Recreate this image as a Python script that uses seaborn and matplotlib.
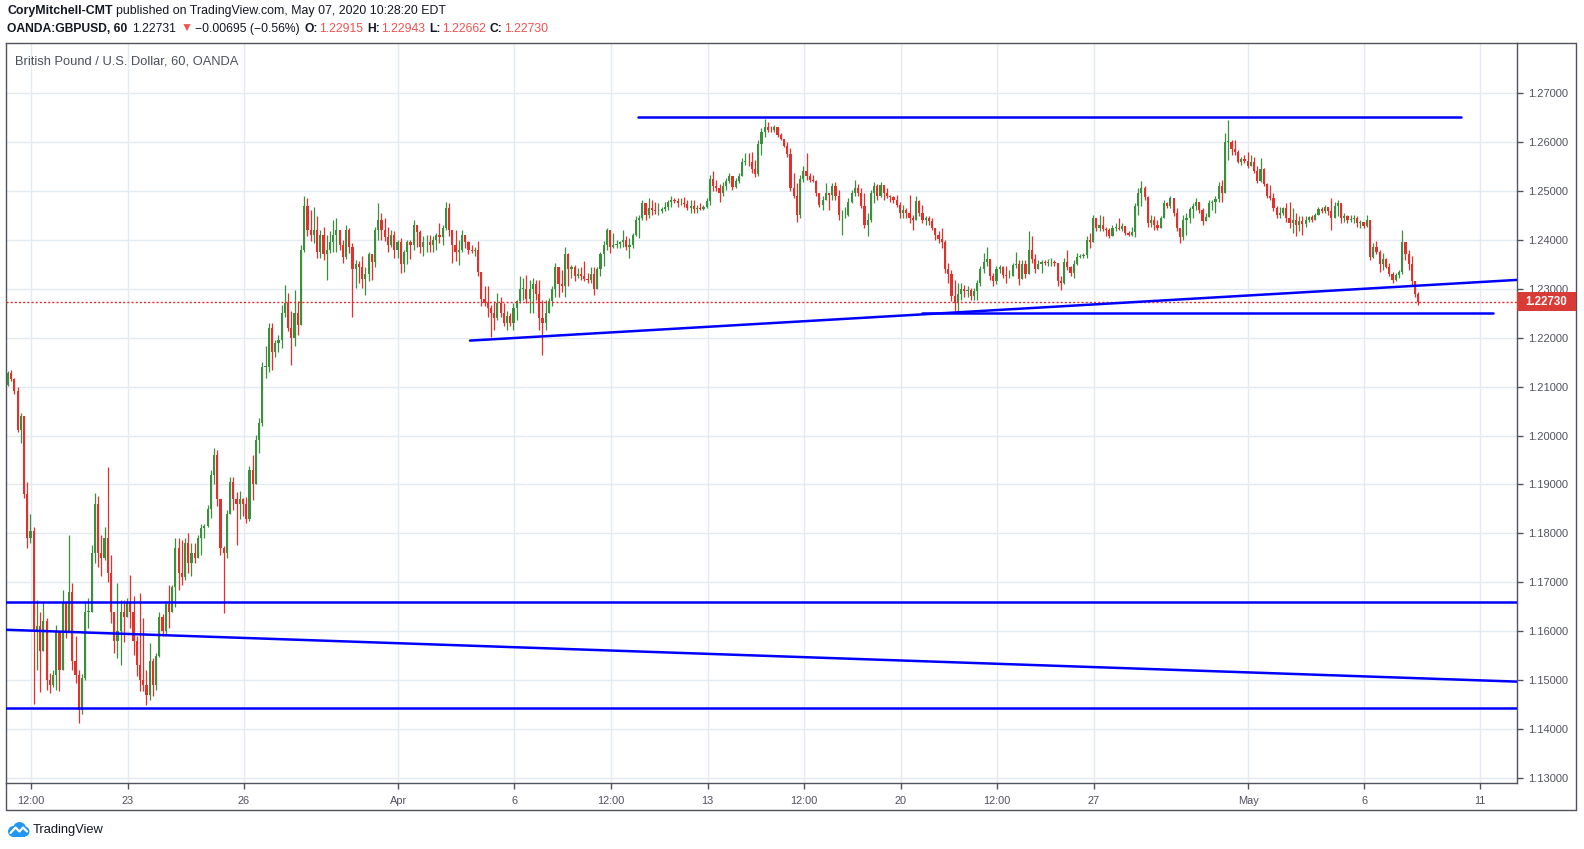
import numpy as np
import pandas as pd
import matplotlib
matplotlib.use("Agg")
import matplotlib.pyplot as plt
from matplotlib.patches import Rectangle, Circle
from matplotlib.lines import Line2D
import seaborn as sns

# ---------------------------------------------------------------- data
# GBPUSD, 2-hour bars (values are 1 + v/10000). Bars are consecutive trading hours,
# hour 0 = 18 Mar 12:00, first bar starts at hour -15.
FIRST_OPEN = 2104
HIGH = [2132, 2133, 2118, 2100, 2046, 2040, 1905, 1840, 1812, 1664,
        1640, 1660, 1627, 1515, 1520, 1613, 1600, 1685, 1660, 1797,
        1698, 1590, 1520, 1512, 1661, 1667, 1777, 1882, 1877, 1796,
        1814, 1936, 1756, 1637, 1698, 1664, 1664, 1668, 1715, 1671,
        1590, 1678, 1627, 1521, 1576, 1545, 1555, 1640, 1635, 1661,
        1695, 1695, 1790, 1790, 1787, 1790, 1800, 1780, 1780, 1797,
        1820, 1820, 1858, 1930, 1975, 1970, 1870, 1775, 1848, 1916,
        1916, 1885, 1886, 1872, 1875, 1937, 1961, 2002, 2036, 2150,
        2182, 2230, 2230, 2195, 2206, 2267, 2308, 2291, 2254, 2298,
        2274, 2390, 2489, 2485, 2461, 2468, 2448, 2420, 2427, 2410,
        2417, 2441, 2444, 2420, 2400, 2431, 2424, 2393, 2359, 2356,
        2366, 2345, 2376, 2370, 2427, 2475, 2455, 2444, 2427, 2420,
        2417, 2400, 2403, 2380, 2400, 2400, 2441, 2430, 2420, 2407,
        2410, 2410, 2407, 2414, 2434, 2430, 2478, 2475, 2420, 2420,
        2400, 2420, 2410, 2397, 2390, 2386, 2397, 2335, 2305, 2305,
        2267, 2274, 2291, 2284, 2271, 2254, 2250, 2270, 2277, 2325,
        2322, 2328, 2318, 2322, 2318, 2318, 2277, 2277, 2281, 2305,
        2352, 2342, 2339, 2386, 2373, 2349, 2349, 2342, 2345, 2356,
        2332, 2345, 2345, 2345, 2376, 2397, 2424, 2420, 2414, 2400,
        2397, 2420, 2407, 2403, 2414, 2448, 2451, 2482, 2475, 2485,
        2482, 2478, 2475, 2468, 2478, 2482, 2489, 2485, 2485, 2485,
        2488, 2482, 2482, 2482, 2471, 2475, 2471, 2485, 2533, 2540,
        2523, 2513, 2519, 2526, 2536, 2530, 2526, 2536, 2567, 2577,
        2577, 2580, 2563, 2604, 2628, 2647, 2640, 2632, 2635, 2630,
        2618, 2606, 2600, 2587, 2536, 2516, 2533, 2550, 2577, 2536,
        2533, 2523, 2495, 2489, 2516, 2496, 2516, 2519, 2502, 2461,
        2468, 2485, 2502, 2523, 2513, 2506, 2495, 2455, 2502, 2519,
        2513, 2519, 2512, 2506, 2492, 2489, 2492, 2478, 2472, 2465,
        2492, 2451, 2489, 2482, 2471, 2448, 2448, 2444, 2425, 2417,
        2424, 2400, 2352, 2339, 2318, 2311, 2311, 2308, 2305, 2301,
        2301, 2318, 2346, 2373, 2386, 2360, 2332, 2346, 2349, 2346,
        2346, 2339, 2352, 2376, 2359, 2359, 2359, 2417, 2407, 2370,
        2359, 2359, 2359, 2360, 2363, 2359, 2352, 2325, 2363, 2380,
        2346, 2359, 2373, 2370, 2373, 2407, 2414, 2451, 2444, 2451,
        2448, 2427, 2424, 2431, 2434, 2444, 2434, 2428, 2417, 2427,
        2475, 2505, 2520, 2509, 2489, 2451, 2448, 2441, 2448, 2482,
        2478, 2489, 2485, 2465, 2424, 2451, 2454, 2468, 2475, 2485,
        2478, 2465, 2454, 2482, 2482, 2489, 2519, 2523, 2618, 2645,
        2604, 2604, 2584, 2570, 2574, 2580, 2574, 2570, 2550, 2567,
        2546, 2516, 2512, 2495, 2470, 2468, 2468, 2475, 2478, 2465,
        2454, 2448, 2448, 2448, 2448, 2451, 2454, 2468, 2468, 2472,
        2468, 2485, 2478, 2482, 2475, 2454, 2451, 2451, 2451, 2448,
        2441, 2437, 2451, 2441, 2393, 2397, 2380, 2373, 2362, 2352,
        2335, 2332, 2339, 2420, 2395, 2380, 2366, 2315, 2294]
LOW = [2101, 2112, 2085, 2007, 1985, 1872, 1770, 1780, 1452, 1520,
       1476, 1560, 1480, 1474, 1487, 1480, 1478, 1520, 1586, 1600,
       1521, 1494, 1412, 1430, 1500, 1606, 1640, 1740, 1732, 1712,
       1746, 1700, 1616, 1555, 1545, 1531, 1579, 1630, 1606, 1552,
       1508, 1478, 1477, 1450, 1460, 1467, 1480, 1548, 1590, 1595,
       1606, 1640, 1650, 1685, 1695, 1705, 1718, 1712, 1739, 1750,
       1756, 1790, 1814, 1831, 1900, 1855, 1755, 1637, 1750, 1840,
       1848, 1777, 1830, 1835, 1821, 1825, 1869, 1900, 1964, 2020,
       2117, 2130, 2134, 2160, 2170, 2179, 2243, 2213, 2145, 2182,
       2206, 2225, 2376, 2407, 2397, 2393, 2363, 2362, 2359, 2318,
       2373, 2376, 2376, 2380, 2352, 2360, 2373, 2243, 2301, 2311,
       2301, 2288, 2315, 2318, 2345, 2400, 2400, 2397, 2376, 2385,
       2363, 2363, 2332, 2335, 2350, 2360, 2380, 2386, 2373, 2366,
       2376, 2376, 2376, 2380, 2393, 2390, 2420, 2407, 2352, 2356,
       2349, 2375, 2383, 2370, 2373, 2366, 2325, 2264, 2264, 2243,
       2202, 2216, 2237, 2243, 2223, 2216, 2223, 2216, 2237, 2270,
       2277, 2270, 2250, 2250, 2277, 2216, 2165, 2216, 2250, 2264,
       2284, 2284, 2294, 2284, 2305, 2322, 2315, 2322, 2318, 2315,
       2312, 2312, 2288, 2300, 2325, 2346, 2380, 2373, 2383, 2383,
       2383, 2386, 2380, 2363, 2383, 2407, 2403, 2440, 2441, 2445,
       2451, 2453, 2451, 2454, 2458, 2461, 2468, 2475, 2468, 2471,
       2468, 2461, 2454, 2454, 2454, 2461, 2461, 2465, 2471, 2499,
       2499, 2478, 2489, 2502, 2516, 2502, 2505, 2516, 2530, 2553,
       2550, 2536, 2529, 2530, 2574, 2611, 2621, 2621, 2621, 2611,
       2604, 2590, 2570, 2499, 2485, 2437, 2445, 2519, 2523, 2519,
       2519, 2489, 2468, 2461, 2482, 2461, 2482, 2482, 2441, 2410,
       2444, 2448, 2475, 2489, 2489, 2465, 2424, 2407, 2437, 2475,
       2482, 2488, 2482, 2485, 2478, 2475, 2468, 2444, 2444, 2445,
       2434, 2420, 2440, 2448, 2434, 2431, 2431, 2420, 2400, 2393,
       2383, 2332, 2311, 2274, 2250, 2250, 2277, 2284, 2284, 2277,
       2277, 2277, 2305, 2332, 2346, 2318, 2305, 2310, 2332, 2322,
       2311, 2322, 2326, 2342, 2308, 2320, 2322, 2330, 2352, 2332,
       2340, 2332, 2349, 2346, 2346, 2346, 2305, 2298, 2310, 2339,
       2325, 2322, 2349, 2362, 2362, 2362, 2383, 2395, 2417, 2417,
       2417, 2407, 2403, 2407, 2417, 2420, 2417, 2410, 2407, 2407,
       2405, 2451, 2470, 2482, 2427, 2427, 2420, 2420, 2424, 2444,
       2464, 2464, 2448, 2417, 2393, 2400, 2410, 2434, 2444, 2460,
       2454, 2431, 2438, 2446, 2461, 2454, 2478, 2478, 2495, 2564,
       2574, 2574, 2557, 2553, 2557, 2546, 2550, 2536, 2516, 2519,
       2509, 2485, 2482, 2458, 2445, 2444, 2451, 2437, 2424, 2414,
       2407, 2417, 2410, 2427, 2437, 2437, 2440, 2450, 2454, 2454,
       2451, 2420, 2444, 2448, 2434, 2437, 2434, 2437, 2434, 2427,
       2424, 2424, 2427, 2359, 2363, 2370, 2335, 2339, 2342, 2325,
       2311, 2315, 2322, 2330, 2359, 2339, 2305, 2284, 2266]
CLOSE = [2128, 2115, 2090, 2012, 2040, 1880, 1790, 1805, 1600, 1610,
         1560, 1620, 1500, 1490, 1510, 1600, 1520, 1660, 1600, 1680,
         1540, 1510, 1440, 1505, 1640, 1640, 1760, 1860, 1760, 1750,
         1790, 1720, 1640, 1580, 1600, 1640, 1630, 1660, 1640, 1580,
         1530, 1500, 1490, 1470, 1540, 1490, 1550, 1630, 1600, 1655,
         1640, 1690, 1770, 1720, 1710, 1780, 1740, 1760, 1750, 1790,
         1810, 1815, 1850, 1920, 1960, 1870, 1770, 1760, 1840, 1905,
         1870, 1860, 1870, 1860, 1830, 1930, 1900, 1990, 2025, 2140,
         2140, 2220, 2170, 2190, 2195, 2250, 2270, 2220, 2200, 2250,
         2225, 2380, 2470, 2420, 2410, 2420, 2375, 2410, 2370, 2380,
         2395, 2410, 2420, 2390, 2365, 2420, 2385, 2340, 2350, 2345,
         2320, 2330, 2370, 2355, 2420, 2440, 2420, 2405, 2390, 2410,
         2380, 2395, 2350, 2375, 2395, 2390, 2430, 2415, 2385, 2395,
         2395, 2390, 2400, 2410, 2405, 2425, 2465, 2420, 2390, 2375,
         2380, 2410, 2395, 2380, 2378, 2380, 2335, 2280, 2270, 2260,
         2250, 2240, 2270, 2250, 2230, 2245, 2230, 2260, 2275, 2300,
         2300, 2280, 2300, 2310, 2290, 2240, 2230, 2250, 2275, 2300,
         2345, 2310, 2305, 2370, 2340, 2345, 2325, 2330, 2325, 2320,
         2318, 2330, 2300, 2340, 2370, 2390, 2420, 2385, 2390, 2392,
         2395, 2400, 2385, 2390, 2410, 2440, 2445, 2475, 2450, 2465,
         2460, 2458, 2458, 2462, 2468, 2478, 2482, 2480, 2475, 2476,
         2473, 2465, 2470, 2462, 2465, 2463, 2466, 2480, 2525, 2510,
         2505, 2495, 2510, 2520, 2530, 2508, 2520, 2530, 2560, 2560,
         2558, 2545, 2535, 2595, 2620, 2630, 2625, 2624, 2630, 2615,
         2606, 2592, 2575, 2505, 2490, 2450, 2525, 2540, 2530, 2522,
         2521, 2495, 2472, 2482, 2495, 2492, 2510, 2490, 2450, 2450,
         2450, 2478, 2495, 2505, 2495, 2470, 2430, 2440, 2495, 2510,
         2490, 2512, 2495, 2490, 2488, 2482, 2472, 2455, 2460, 2455,
         2445, 2440, 2480, 2455, 2440, 2444, 2438, 2425, 2410, 2402,
         2395, 2340, 2330, 2285, 2270, 2290, 2300, 2295, 2298, 2285,
         2296, 2312, 2340, 2355, 2360, 2325, 2315, 2340, 2345, 2328,
         2325, 2326, 2348, 2350, 2320, 2350, 2330, 2380, 2360, 2340,
         2350, 2355, 2352, 2354, 2355, 2352, 2315, 2312, 2355, 2345,
         2332, 2350, 2365, 2366, 2368, 2400, 2395, 2445, 2425, 2430,
         2422, 2420, 2408, 2425, 2425, 2422, 2428, 2414, 2410, 2415,
         2470, 2495, 2505, 2488, 2435, 2440, 2430, 2425, 2444, 2475,
         2470, 2485, 2455, 2425, 2405, 2440, 2445, 2462, 2470, 2478,
         2460, 2438, 2446, 2475, 2478, 2484, 2510, 2495, 2600, 2600,
         2585, 2580, 2560, 2565, 2562, 2550, 2560, 2540, 2520, 2545,
         2515, 2490, 2486, 2465, 2450, 2455, 2465, 2445, 2435, 2440,
         2430, 2438, 2432, 2440, 2446, 2440, 2450, 2462, 2458, 2466,
         2458, 2445, 2470, 2475, 2445, 2448, 2440, 2442, 2445, 2435,
         2436, 2428, 2440, 2365, 2385, 2375, 2350, 2360, 2345, 2330,
         2318, 2328, 2335, 2395, 2370, 2350, 2315, 2290, 2273]
BAR_HOURS = 2
FIRST_BAR_HOUR = -15

TICK_HOURS = [0, 60, 132, 228, 300, 360, 420, 480, 540, 600, 660, 756, 828, 900]
TICK_LABELS = ["12:00", "23", "26", "Apr", "6", "12:00", "13", "12:00", "20",
               "12:00", "27", "May", "6", "11"]
PRICE_TICKS = [1.13, 1.14, 1.15, 1.16, 1.17, 1.18, 1.19, 1.20,
               1.21, 1.22, 1.23, 1.24, 1.25, 1.26, 1.27]
LAST_PRICE = 1.22730
LEGEND_OHLC = [("O", "1.22915"), ("H", "1.22943"), ("L", "1.22662"), ("C", "1.22730")]

# user-drawn lines: (hour0, price0, hour1, price1)
DRAWN_LINES = [
    (376.6, 1.2650, 888.0, 1.2650),
    (553.0, 1.2250, 908.0, 1.2250),
    (272.5, 1.2194, 922.8, 1.2318),
    (-16.0, 1.1659, 924.0, 1.1659),
    (-15.7, 1.1603, 922.8, 1.1497),
    (-16.0, 1.1444, 924.0, 1.1444),
]

# ---------------------------------------------------------------- style
sns.set_theme(style="white")
plt.rcParams['font.family'] = ['Liberation Sans', 'DejaVu Sans']

UP, DOWN = '#3b8f3f', '#e2312d'
BLUE = '#0000ff'
GRID = '#e2eaf2'
AXC = '#50535e'
DARK = '#131722'
RED_T = '#ef5350'

W, H = 1584, 849
fig = plt.figure(figsize=(W / 100, H / 100), dpi=100)
fig.patch.set_facecolor('white')


def fx(x):
    return x / W


def fy(y):
    return 1 - y / H


PANE_L, PANE_R, PANE_T, PANE_B = 6, 1517, 43.4, 783
ax = fig.add_axes([fx(PANE_L), fy(PANE_B), (PANE_R - PANE_L) / W, (PANE_B - PANE_T) / H])
ax.set_facecolor('white')

# ---------------------------------------------------------------- candles
n = len(CLOSE)
df = pd.DataFrame({
    'high': 1 + np.array(HIGH) / 1e4,
    'low': 1 + np.array(LOW) / 1e4,
    'close': 1 + np.array(CLOSE) / 1e4,
})
df['open'] = df['close'].shift(1).fillna(1 + FIRST_OPEN / 1e4)
df['high'] = df[['high', 'open', 'close']].max(axis=1)
df['low'] = df[['low', 'open', 'close']].min(axis=1)
df['hour'] = FIRST_BAR_HOUR + BAR_HOURS * np.arange(n) + (BAR_HOURS - 1) / 2
colors = np.where(df['close'] >= df['open'], UP, DOWN)

ax.vlines(df['hour'], df['low'], df['high'], colors=colors, linewidth=0.9, zorder=3)
body_bottom = np.minimum(df['open'], df['close'])
body_h = np.maximum(np.abs(df['close'] - df['open']), 0.00012)
ax.bar(df['hour'], body_h, bottom=body_bottom, width=1.35, color=colors,
       linewidth=0, zorder=3)

# last price dotted line
ax.axhline(LAST_PRICE, color=DOWN, lw=1.0, ls=(0, (1.5, 1.5)), zorder=4)

# drawn lines
for h0, p0, h1, p1 in DRAWN_LINES:
    sns.lineplot(x=[h0, h1], y=[p0, p1], ax=ax, color=BLUE, linewidth=1.8,
                 zorder=5, legend=False, sort=False)

# ---------------------------------------------------------------- axes
ax.set_xlim((PANE_L - 31.3) / 1.61, (PANE_R - 31.3) / 1.61)
ax.set_ylim(1.27 - (PANE_B - 93) / 4893, 1.27 + (93 - PANE_T) / 4893)
ax.set_xlabel('')
ax.set_ylabel('')
ax.set_xticks(TICK_HOURS)
ax.set_xticklabels(TICK_LABELS)
ax.yaxis.tick_right()
ax.set_yticks(PRICE_TICKS)
ax.set_yticklabels([f"{p:.5f}" for p in PRICE_TICKS])
ax.grid(True, color=GRID, lw=1.0)
ax.set_axisbelow(True)
ax.tick_params(axis='x', bottom=True, direction='out', length=4, width=1,
               color=AXC, labelsize=7.9, labelcolor=AXC, pad=5)
ax.tick_params(axis='y', right=True, left=False, direction='out', length=4, width=1,
               color=AXC, labelsize=8.0, labelcolor=AXC, pad=4)
for s in ax.spines.values():
    s.set_visible(True)
    s.set_color(AXC)
    s.set_linewidth(1.0)

# outer frame
frame = dict(color=AXC, lw=1.0, transform=fig.transFigure)
fig.add_artist(Line2D([fx(PANE_R), fx(1576)], [fy(PANE_T)] * 2, **frame))
fig.add_artist(Line2D([fx(1576)] * 2, [fy(PANE_T), fy(810)], **frame))
fig.add_artist(Line2D([fx(PANE_L), fx(1576)], [fy(810)] * 2, **frame))
fig.add_artist(Line2D([fx(PANE_L)] * 2, [fy(PANE_B), fy(810)], **frame))

# last price label
ly = 93 + (1.27 - LAST_PRICE) * 4893
fig.add_artist(Rectangle((fx(PANE_R), fy(ly + 9.5)), (1576 - PANE_R) / W, 19 / H,
                         transform=fig.transFigure, facecolor='#d93b36',
                         edgecolor='none', zorder=10))
fig.text(fx(1546.5), fy(ly), f"{LAST_PRICE:.5f}", color='white', fontsize=8.3,
         fontweight='bold', ha='center', va='center', zorder=11)

# ---------------------------------------------------------------- texts
renderer = fig.canvas.get_renderer()


def place_pieces(x0, y, pieces, size, target=None):
    arts = []

    def layout(sz):
        for a in arts:
            a.remove()
        arts.clear()
        x = x0
        for s, wt, col, gap in pieces:
            t = fig.text(fx(x), fy(y), s, fontsize=sz, fontweight=wt, color=col,
                         ha='left', va='center')
            arts.append(t)
            x += t.get_window_extent(renderer=renderer).width + gap * sz
        return x - x0

    w = layout(size)
    if target:
        layout(size * target / w)


place_pieces(7, 11, [("CoryMitchell-CMT", 'bold', DARK, 0.39),
                     ("published on TradingView.com, May 07, 2020 10:28:20 EDT", 'normal', DARK, 0)],
             9.5, target=440)

line2 = [("OANDA:GBPUSD, 60", 'bold', DARK, 0.55),
         ("1.22731", 'normal', DARK, 0.55),
         ("\u25bc", 'normal', RED_T, 0.3),
         ("\u22120.00695 (\u22120.56%)", 'normal', DARK, 0.5)]
for lab, val in LEGEND_OHLC:
    line2.append((lab + ":", 'bold', DARK, 0.12))
    line2.append((val, 'normal', RED_T, 0.5))
line2[-1] = (line2[-1][0], 'normal', RED_T, 0)
place_pieces(7, 29, line2, 9.5, target=541)

place_pieces(15, 61, [("British Pound / U.S. Dollar, 60, OANDA", 'normal', '#4a4f5a', 0)],
             9.0, target=225)

place_pieces(33, 830, [("TradingView", 'normal', DARK, 0)], 9.0, target=71)

# TradingView logo
lax = fig.add_axes([fx(7), fy(838), 23 / W, 17 / H])
lax.set_xlim(0, 23)
lax.set_ylim(0, 17)
lax.axis('off')
for (cx, cy, r) in [(6.5, 6.5, 5.5), (12.5, 9.5, 6.5), (17.5, 6.5, 5.0)]:
    lax.add_patch(Circle((cx, cy), r, color='#2196f3', lw=0))
lax.add_patch(Rectangle((6.5, 1.0), 11, 5, color='#2196f3', lw=0))
lax.plot([3.5, 8.5, 12.5, 16, 20], [5, 10.5, 6.5, 10.5, 6.5], color='white', lw=1.6,
         solid_capstyle='round', solid_joinstyle='round')

fig.savefig('out.png', dpi=100)
